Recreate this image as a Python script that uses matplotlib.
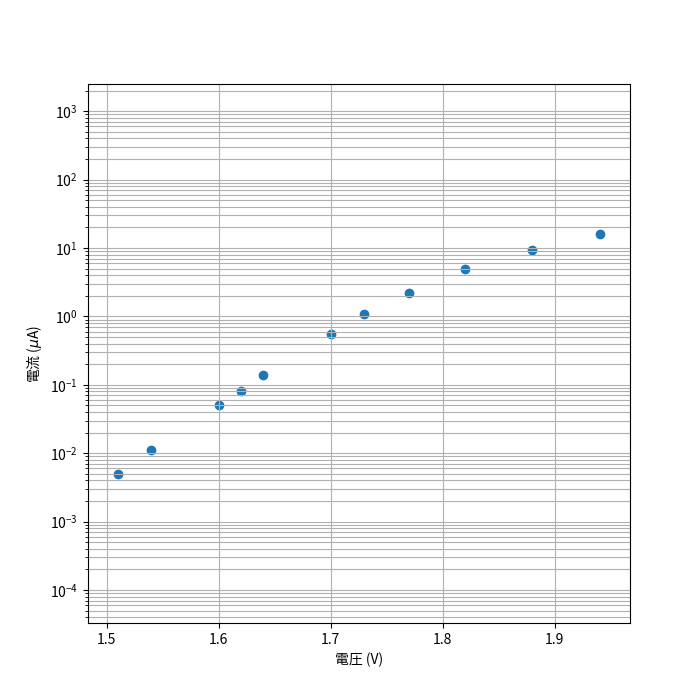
import matplotlib
matplotlib.use("Agg")
import matplotlib.pyplot as plt

plt.rcParams['font.family'] = ['Noto Sans CJK JP', 'DejaVu Sans']

voltage = [1.51, 1.54, 1.60, 1.62, 1.64, 1.70, 1.73, 1.77, 1.82, 1.88, 1.94]
current = [0.005, 0.011, 0.05, 0.08, 0.14, 0.55, 1.1, 2.2, 5.0, 9.5, 16.0]

fig, ax = plt.subplots(figsize=(7, 7), dpi=100)
ax.scatter(voltage, current)
ax.set_yscale('log')
ax.set_ylim(3.3e-5, 2.5e3)
ax.set_xlim(1.483, 1.967)
ax.grid(True, which='both')
ax.set_xlabel('電圧 (V)')
ax.set_ylabel('電流 ($\\mu$A)')
fig.savefig('out.png')
